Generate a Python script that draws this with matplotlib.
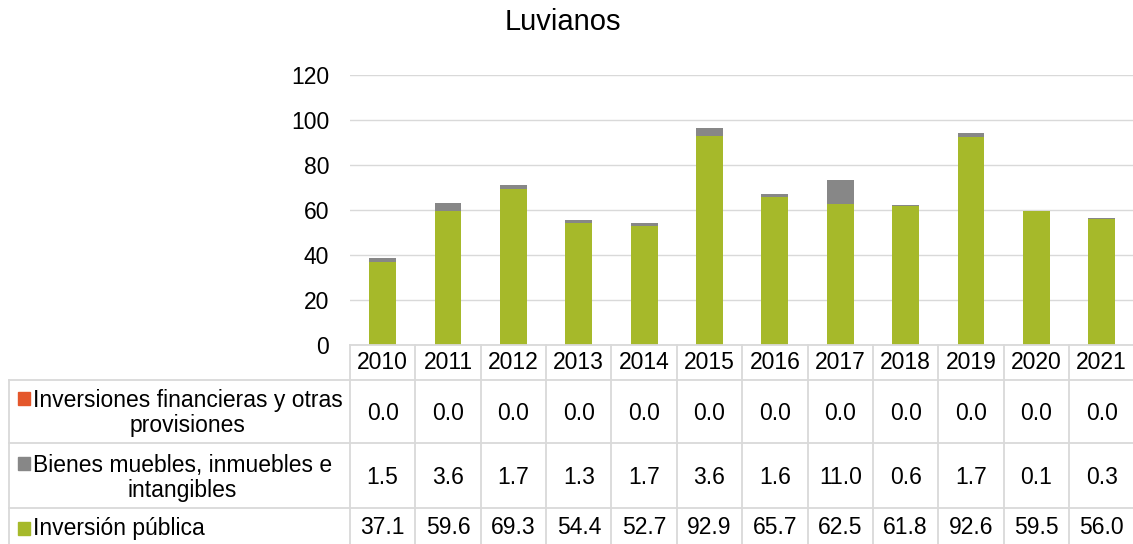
import matplotlib.pyplot as plt
from matplotlib.patches import Rectangle
import numpy as np

plt.rcParams['font.family'] = ['Liberation Sans', 'DejaVu Sans']

years = ['2010', '2011', '2012', '2013', '2014', '2015', '2016', '2017', '2018', '2019', '2020', '2021']
inversion_publica = [37.1, 59.6, 69.3, 54.4, 52.7, 92.9, 65.7, 62.5, 61.8, 92.6, 59.5, 56.0]
bienes_muebles = [1.5, 3.6, 1.7, 1.3, 1.7, 3.6, 1.6, 11.0, 0.6, 1.7, 0.1, 0.3]
inversiones_fin = [0.0] * 12

series_labels = ['Inversiones financieras y otras\nprovisiones',
                 'Bienes muebles, inmuebles e\nintangibles',
                 'Inversión pública']
colors = ['#E4572B', '#878787', '#A6B92A']
grid_color = '#D9D9D9'
fs = 16.5

W, H = 1133, 544
fig = plt.figure(figsize=(W / 100, H / 100), dpi=100)

# chart area (pixel layout)
ax_left, ax_right, ax_top, ax_bot = 350, 1134.4, 75, 345
ax = fig.add_axes([ax_left / W, (H - ax_bot) / H, (ax_right - ax_left) / W, (ax_bot - ax_top) / H])

x = np.arange(len(years))
bw = 0.41
green = np.array(inversion_publica)
gray = np.array(bienes_muebles)
ax.bar(x, green, bw, color=colors[2], zorder=3)
ax.bar(x, gray, bw, bottom=green, color=colors[1], zorder=3)
ax.bar(x, inversiones_fin, bw, bottom=green + gray, color=colors[0], zorder=3)

ax.set_xlim(-0.5, len(years) - 0.5)
ax.set_ylim(0, 120)
ax.set_yticks(range(0, 121, 20))
ax.set_xticks([])
ax.tick_params(axis='y', length=0, pad=15, labelsize=fs)
ax.yaxis.grid(True, color=grid_color, linewidth=1.0, zorder=0)
for s in ax.spines.values():
    s.set_visible(False)

fig.text(563 / W, 1 - 22 / H, 'Luvianos', ha='center', va='center', fontsize=21)

# data table below the chart, x aligned with the bar columns, y in pixels from table top
tab = fig.add_axes([ax_left / W, 0, (ax_right - ax_left) / W, (H - ax_bot) / H])
tab.set_xlim(-0.5, len(years) - 0.5)
tab.set_ylim(H - ax_bot, 0)
tab.axis('off')

col_w = (ax_right - ax_left) / len(years)
def px(p):
    # figure pixel x -> table data x
    return -0.5 - (ax_left - p) / col_w

row_edges = [0, 35, 98, 163, 205]
row_centers = [17.5, 68, 133, 183]
label_left = px(9)
right = len(years) - 0.5
lkw = dict(color=grid_color, linewidth=1.3, clip_on=False)

tab.plot([-0.5, right], [0, 0], **lkw)
for yy in row_edges[1:4]:
    tab.plot([label_left, right], [yy, yy], **lkw)
for i in range(len(years) + 1):
    tab.plot([-0.5 + i, -0.5 + i], [0, row_edges[-1]], **lkw)
tab.plot([label_left, label_left], [35, row_edges[-1]], **lkw)

for i, yr in enumerate(years):
    tab.text(i, row_centers[0], yr, ha='center', va='center', fontsize=fs)

rows = [inversiones_fin, bienes_muebles, inversion_publica]
sq_y = [53.5, 118.5, 183.5]
for r, (vals, lab, c) in enumerate(zip(rows, series_labels, colors)):
    yc = row_centers[r + 1]
    for i, v in enumerate(vals):
        tab.text(i, yc, f'{v:.1f}', ha='center', va='center', fontsize=fs)
    tab.text(px(33), yc, lab, ha='left', va='center', multialignment='center',
             fontsize=fs, linespacing=1.15, clip_on=False)
    sq = 12.5
    tab.add_patch(Rectangle((px(18), sq_y[r] - sq / 2), sq / col_w, sq,
                            color=c, clip_on=False))

fig.savefig('out.png', dpi=100)
